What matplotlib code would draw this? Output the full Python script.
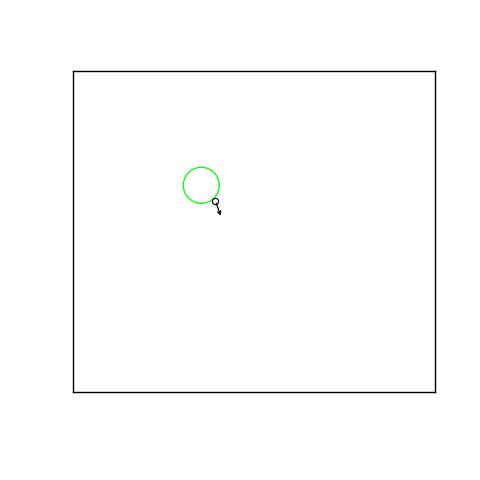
import numpy as np
import matplotlib
matplotlib.use("Agg")
import matplotlib.pyplot as plt
from matplotlib.patches import Circle

# data in plot units (x: 0..362, y: 0..321)
xlim = [0, 362]
ylim = [0, 321]
ring_center = [128.3, 206.7]
ring_radius = 18
point = [142.3, 191.3]
arrow_end = [147.7, 176.3]

fig = plt.figure(figsize=(4.8, 4.8), dpi=100)
ax = fig.add_axes([73/480, 88/480, 362/480, 321/480])
ax.set_xlim(xlim)
ax.set_ylim(ylim)
ax.set_xticks([])
ax.set_yticks([])
for s in ax.spines.values():
    s.set_linewidth(1.0)
    s.set_color("black")

ax.add_patch(Circle(ring_center, ring_radius, fill=False, edgecolor="#00ff00", lw=0.9))
ax.plot(point[0], point[1], marker="o", ms=4.5, mfc="none", mec="black", mew=0.8)
ax.annotate("", xy=arrow_end, xytext=point,
            arrowprops=dict(arrowstyle="->", color="black", lw=0.9,
                            shrinkA=2, shrinkB=0, mutation_scale=6))

fig.savefig("out.png", dpi=100)
